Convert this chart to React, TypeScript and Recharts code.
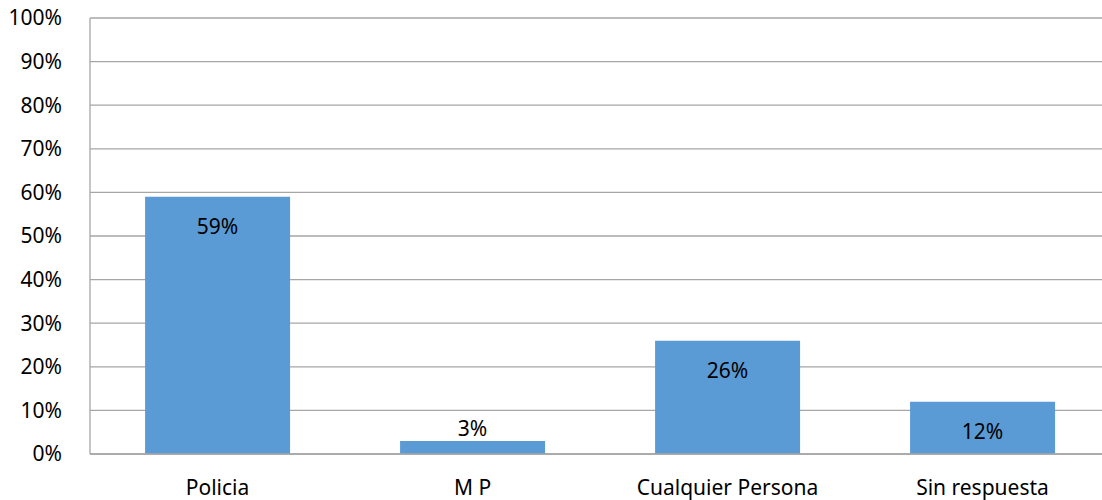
import { BarChart, Bar, XAxis, YAxis, CartesianGrid, LabelList } from "recharts";

const categories = ["Policia", "M P", "Cualquier Persona", "Sin respuesta"];
const shares = [59, 3, 26, 12];
const yTicks = [0, 10, 20, 30, 40, 50, 60, 70, 80, 90, 100];

const data = categories.map((name, i) => ({ name, value: shares[i] }));

const FONT = "'Noto Sans', 'Open Sans', sans-serif";

function ValueLabel(props: any) {
  const { x, y, width, height, value } = props;
  const cx = x + width / 2;
  // small bars get the label above, the rest inside near the top
  const inside = height > 40;
  const ty = inside ? y + 29 : y - 13;
  return (
    <text
      x={cx}
      y={ty}
      textAnchor="middle"
      dominantBaseline="central"
      fontFamily={FONT}
      fontSize={21}
      fill="#000"
    >
      {value}%
    </text>
  );
}

export default function App() {
  return (
    <div
      style={{
        position: "absolute",
        left: 0,
        top: 0,
        width: 1102,
        height: 500,
        overflow: "hidden",
        background: "#fff",
      }}
    >
      <BarChart
        width={1110}
        height={500}
        data={data}
        margin={{ top: 18, right: 0, left: 0, bottom: 16 }}
        barCategoryGap="21.6%"
      >
        <CartesianGrid vertical={false} stroke="#a6a6a6" strokeWidth={1.3} />
        <XAxis
          dataKey="name"
          height={30}
          tickLine={false}
          axisLine={{ stroke: "#a6a6a6", strokeWidth: 1.3 }}
          tick={{ fontSize: 21, fill: "#000", fontFamily: FONT }}
          tickMargin={20}
        />
        <YAxis
          width={90}
          domain={[0, 100]}
          ticks={yTicks}
          interval={0}
          tickFormatter={(v: number) => `${v}%`}
          tickLine={false}
          axisLine={{ stroke: "#a6a6a6", strokeWidth: 1.3 }}
          tick={{ fontSize: 21, fill: "#000", fontFamily: FONT }}
          tickMargin={22}
        />
        <Bar dataKey="value" fill="#5b9bd5" isAnimationActive={false}>
          <LabelList dataKey="value" content={<ValueLabel />} />
        </Bar>
      </BarChart>
    </div>
  );
}
